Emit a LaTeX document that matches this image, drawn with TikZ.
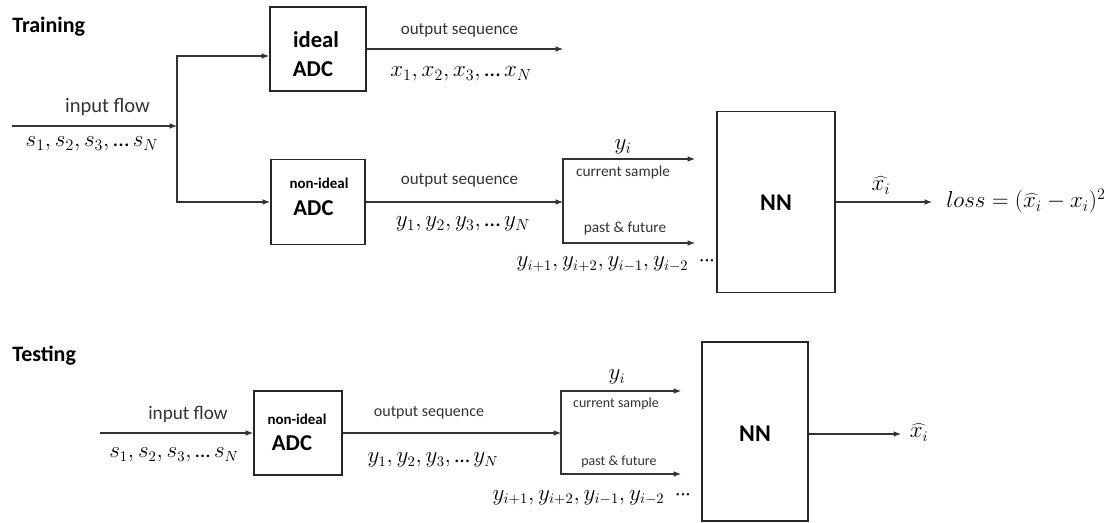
\documentclass[tikz,border=0pt]{standalone}
\usepackage{fontspec}
\setmainfont{Carlito}
\usetikzlibrary{arrows.meta,calc}
% tight ellipses
\newcommand{\tightdots}{\mbox{…}\,}
\newcommand{\tightcdots}{\mathinner{\cdotp\mkern-4mu\cdotp\mkern-4mu\cdotp}}

\begin{document}
\begin{tikzpicture}[x=0.75pt,y=-0.75pt,
  box/.style={draw=black!85,line width=1.4pt,inner sep=0pt},
  arr/.style={draw=black!80,line width=0.8pt,-{Latex[length=5.5pt,width=4.2pt]}},
  lbl/.style={inner sep=0pt,anchor=base,text=black!80},
  title/.style={inner sep=0pt,anchor=base west,font=\fontsize{16.5}{18}\selectfont\bfseries},
  flow/.style={lbl,font=\fontsize{15.4}{17}\selectfont},
  seq/.style={lbl,font=\fontsize{12.8}{14}\selectfont},
  tap/.style={lbl,font=\fontsize{11.5}{13}\selectfont},
  mth/.style={lbl,text=black,font=\fontsize{17}{19}\selectfont},
  mths/.style={lbl,text=black,font=\fontsize{16}{18}\selectfont},
  big/.style={inner sep=0pt,font=\fontsize{17}{19}\selectfont\bfseries},
  small/.style={inner sep=0pt,font=\fontsize{11.2}{13}\selectfont\bfseries}]
\useasboundingbox (0,0) rectangle (1117,523);

% ---------------- Training ----------------
\node[title] (ttrain) at (12,33) {Training};

\node[box,minimum width=72pt,minimum height=63pt] (ideal) at (318,49) {};
\node[big] (idealA) at (316,40) {ideal};
\node[big] (idealB) at (313,69) {ADC};

\node[box,minimum width=70.5pt,minimum height=63.75pt] (nid1) at (318,202) {};
\node[small] (nid1A) at (319,183) {non-ideal};
\node[big] (nid1B) at (313.5,208) {ADC};

\node[box,minimum width=88.5pt,minimum height=135.75pt] (nn1) at (776,202) {};
\node[big,font=\fontsize{18}{20}\selectfont\bfseries] (nn1t) at (776,203) {NN};

\coordinate (in1) at (12,126);
\coordinate (sp1) at (177,126);
\coordinate (xout) at (563,49);
\coordinate (sp2) at (563,202);
\coordinate (cur1) at (695,159);
\coordinate (pf1) at (695,243);
\coordinate (out1) at (932,202);

\draw[arr] (in1) -- (sp1);
\draw[arr] (sp1) |- ([yshift=-5.25pt]ideal.west);
\draw[arr] (sp1) |- (nid1.west);
\draw[arr] (ideal.east) -- (xout);
\draw[arr] (nid1.east) -- (sp2);
\draw[arr] (sp2) |- (cur1);
\draw[arr] (sp2) |- (pf1);
\draw[arr] (nn1.east) -- (out1);

\node[flow] (l1) at (107.5,113) {input flow};
\node[mth] (m1) at (92,147) {$s_1, s_2, s_3, \tightdots s_N$};
\node[seq] (l2) at (459.5,35) {output sequence};
\node[mth] (m2) at (461,77) {$x_1, x_2, x_3, \tightdots x_N$};
\node[seq] (l3) at (459.5,185) {output sequence};
\node[mth] (m3) at (463,227) {$y_1, y_2, y_3, \tightdots y_N$};
\node[mth] (m4) at (623,150) {$y_i$};
\node[tap] (l4) at (623,177) {current sample};
\node[tap] (l5) at (625,233) {past \& future};
\node[mths] (m5) at (616,267) {$y_{i+1}, y_{i+2}, y_{i-1}, y_{i-2}\;\tightcdots$};
\node[mth] (m6) at (881,191) {$\widehat{x_i}$};
\node[mth,anchor=base west] (loss) at (946,208) {$loss = (\widehat{x_i} - x_i)^2$};

% ---------------- Testing ----------------
\node[title] (ttest) at (12,362) {Testing};

\node[box,minimum width=66pt,minimum height=63pt] (nid2) at (298,433) {};
\node[small] (nid2A) at (297,419) {non-ideal};
\node[big] (nid2B) at (292,443) {ADC};

\node[box,minimum width=79.5pt,minimum height=134.25pt] (nn2) at (755,431.5) {};
\node[big,font=\fontsize{18}{20}\selectfont\bfseries] (nn2t) at (755,434) {NN};

\coordinate (in2) at (100,433);
\coordinate (sp3) at (561,433);
\coordinate (cur2) at (681,391);
\coordinate (pf2) at (681,474);
\coordinate (out2) at (901,434);

\draw[arr] (in2) -- (nid2.west);
\draw[arr] (nid2.east) -- (sp3);
\draw[arr] (sp3) |- (cur2);
\draw[arr] (sp3) |- (pf2);
\draw[arr] (nn2.east |- out2) -- (out2);

\node[flow,font=\fontsize{14.4}{16}\selectfont] (l6) at (188,420) {input flow};
\node[mths] (m7) at (174,458) {$s_1, s_2, s_3, \tightdots s_N$};
\node[seq,font=\fontsize{12}{14}\selectfont] (l7) at (429,417) {output sequence};
\node[mths] (m8) at (433,463) {$y_1, y_2, y_3, \tightdots y_N$};
\node[mths] (m9) at (617,380) {$y_i$};
\node[tap,font=\fontsize{10.5}{12}\selectfont] (l8) at (616,408) {current sample};
\node[tap,font=\fontsize{10.5}{12}\selectfont] (l9) at (619,466) {past \& future};
\node[mths] (m10) at (592,500) {$y_{i+1}, y_{i+2}, y_{i-1}, y_{i-2}\;\tightcdots$};
\node[mths] (m11) at (919,438) {$\widehat{x_i}$};
\end{tikzpicture}
\end{document}
